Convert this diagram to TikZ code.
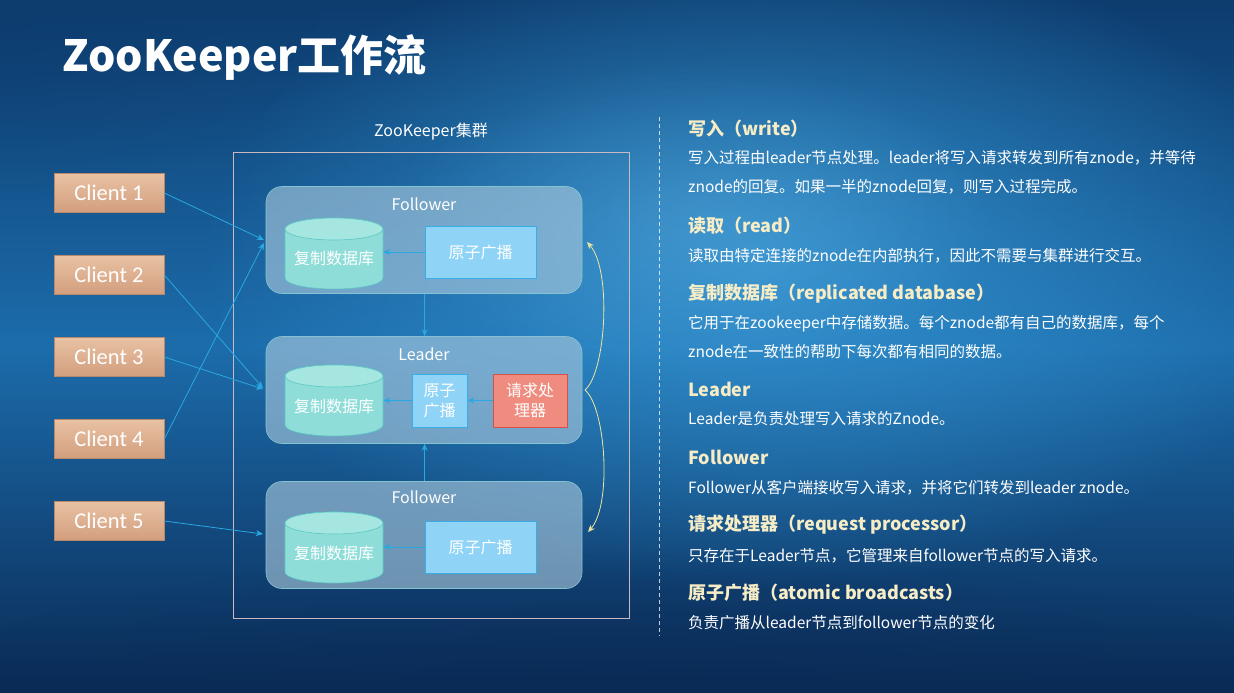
\documentclass[tikz,border=0pt]{standalone}
\usepackage{fontspec}
\setmainfont{Noto Sans CJK SC}
\newfontfamily\clientfont{Carlito}
\usetikzlibrary{arrows.meta,fadings}
\tikzfading[name=myfade, inner color=transparent!0, outer color=transparent!100]
\definecolor{bgA}{HTML}{0D3C6E}
\definecolor{bgB}{HTML}{1C6CAB}
\definecolor{bgC}{HTML}{0A2A55}
\definecolor{glow}{HTML}{3A9FDC}
\definecolor{clientT}{HTML}{E8C2A3}
\definecolor{clientB}{HTML}{D29E7E}
\definecolor{clientE}{HTML}{B88868}
\definecolor{panelF}{HTML}{A9C9DD}
\definecolor{panelE}{HTML}{86C3D2}
\definecolor{dbF}{HTML}{8EDDD8}
\definecolor{dbTop}{HTML}{A6E6E1}
\definecolor{dbE}{HTML}{5CC7C4}
\definecolor{abF}{HTML}{8FD4F6}
\definecolor{abE}{HTML}{39ADE6}
\definecolor{rpF}{HTML}{EF8C7F}
\definecolor{rpE}{HTML}{D5524A}
\definecolor{arr}{HTML}{2AA8E0}
\definecolor{yel}{HTML}{EEE4A2}
\definecolor{head}{HTML}{F6EDC6}
\definecolor{frameC}{HTML}{C9B9C3}
\tikzset{
  client/.style={draw=clientE, line width=0.6pt, top color=clientT, bottom color=clientB,
    minimum width=110pt, minimum height=39pt, inner sep=0pt,
    font=\clientfont\fontsize{22.5}{24}\selectfont, text=white},
  panel/.style={draw=panelE, line width=0.6pt, fill=panelF, fill opacity=0.62, text opacity=1,
    rounded corners=16pt, minimum width=316pt, minimum height=107pt, inner sep=0pt},
  plabel/.style={font=\fontsize{16}{18}\selectfont, text=white},
  dbtxt/.style={font=\fontsize{16}{18}\selectfont, text=white},
  dbbody/.style={draw=dbE, fill=dbF, line width=0.6pt},
  dbend/.style={draw=dbE, fill=dbTop, line width=0.6pt},
  ab/.style={draw=abE, line width=0.7pt, fill=abF, inner sep=0pt,
    font=\fontsize{16}{20}\selectfont, text=white, align=center},
  rp/.style={draw=rpE, line width=0.7pt, fill=rpF, inner sep=0pt,
    font=\fontsize{16}{20}\selectfont, text=white, align=center},
  flow/.style={draw=arr, line width=0.8pt, -{Stealth[length=7pt,width=6pt]}},
  yflow/.style={draw=yel, line width=0.8pt, -{Stealth[length=7pt,width=6pt,fill=yel]}},
  headtxt/.style={anchor=west, inner sep=0pt, font=\bfseries\fontsize{18}{20}\selectfont, text=head},
  bodytxt/.style={anchor=west, inner sep=0pt, font=\fontsize{15.5}{18}\selectfont, text=white},
}
% cylinder: name, x centre, y top
\newcommand\mycyl[3]{%
  \node[minimum width=98pt, minimum height=71pt, inner sep=0pt] (#1) at (#2,#3+35.5) {};
  \path[dbbody] (#2-49,#3+11) -- (#2-49,#3+60)
     arc[start angle=180, end angle=0, x radius=49, y radius=11]
     -- (#2+49,#3+11) arc[start angle=0, end angle=-180, x radius=49, y radius=11] -- cycle;
  \path[dbend] (#2,#3+11) ellipse[x radius=49, y radius=11];
}
\begin{document}
\begin{tikzpicture}[x=1pt,y=-1pt]
\useasboundingbox (0,0) rectangle (1234,693);
% background
\shade[top color=bgA, bottom color=bgC, middle color=bgB] (0,0) rectangle (1234,693);
\fill[glow, path fading=myfade, opacity=0.75] (760,260) ellipse (560 and 330);
\fill[glow!70!white, path fading=myfade, opacity=0.25] (700,220) ellipse (300 and 160);
\fill[bgA, path fading=myfade, opacity=0.6] (0,0) ellipse (320 and 200);
\fill[bgC, path fading=myfade, opacity=0.5] (617,693) ellipse (700 and 140);
% title
\node[anchor=west, inner sep=0pt, text=white, font=\bfseries\fontsize{43}{45}\selectfont] (title) at (62,58) {ZooKeeper工作流};
% cluster
\node[font=\fontsize{16}{18}\selectfont, text=white] (clabel) at (431,132) {ZooKeeper集群};
\node[draw=frameC, line width=0.7pt, minimum width=396pt, minimum height=466pt, inner sep=0pt] (cluster) at (431,385) {};
% clients
\node[client] (c1) at (109,193) {Client 1};
\node[client] (c2) at (109,275) {Client 2};
\node[client] (c3) at (109,357) {Client 3};
\node[client] (c4) at (109,439) {Client 4};
\node[client] (c5) at (109,521) {Client 5};
% panels
\node[panel] (f1) at (424,240) {};
\node[panel] (ld) at (424,390) {};
\node[panel] (f2) at (424,535) {};
\node[plabel] (f1l) at (424,204) {Follower};
\node[plabel] (ldl) at (424,354) {Leader};
\node[plabel] (f2l) at (424,497) {Follower};
% databases
\mycyl{db1}{334}{218}
\mycyl{db2}{334}{365}
\mycyl{db3}{334}{512}
\node[dbtxt] (db1t) at (334,258) {复制数据库};
\node[dbtxt] (db2t) at (334,406) {复制数据库};
\node[dbtxt] (db3t) at (334,553) {复制数据库};
% atomic broadcast
\node[ab, minimum width=111pt, minimum height=52pt] (ab1) at (480.5,252) {原子广播};
\node[ab, minimum width=55pt, minimum height=53pt] (ab2) at (439.5,400.5) {原子\\广播};
\node[ab, minimum width=111pt, minimum height=52pt] (ab3) at (480.5,547) {原子广播};
\node[rp, minimum width=74pt, minimum height=53pt] (rp) at (530,400.5) {请求处\\理器};
% internal arrows
\draw[flow] (ab1.west) -- (db1.east |- ab1.west);
\draw[flow] (ab3.west) -- (db3.east |- ab3.west);
\draw[flow] (rp.west) -- (ab2.east);
\draw[flow] (ab2.west) -- (db2.east |- ab2.west);
\draw[flow] (f1.south -| ab1.west) -- (ld.north -| ab1.west);
\draw[flow] (f2.north -| ab1.west) -- (ld.south -| ab1.west);
% client arrows
\draw[flow] (c1.east) -- (264,240);
\draw[flow] (c4.east) -- (264,243);
\draw[flow] (c2.east) -- (263,388);
\draw[flow] (c3.east) -- (263,389);
\draw[flow] (c5.east) -- (263,534);
% yellow curves
\coordinate (yo) at (585,390);
\coordinate (yt) at (587,242);
\coordinate (yb) at (588,532);
\draw[yflow] (yo) .. controls (606,372) and (612,270) .. (yt);
\draw[yflow] (yo) .. controls (606,408) and (612,505) .. (yb);
% divider
\draw[white, opacity=0.75, line width=0.8pt, dash pattern=on 4pt off 3pt] (659,117) -- (659,636);
% right text
\node[headtxt] (h1) at (688,129) {写入（write）};
\node[bodytxt] (b1a) at (688,158) {写入过程由leader节点处理。leader将写入请求转发到所有znode，并等待};
\node[bodytxt] (b1b) at (688,187) {znode的回复。如果一半的znode回复，则写入过程完成。};
\node[headtxt] (h2) at (688,226) {读取（read）};
\node[bodytxt] (b2) at (688,256) {读取由特定连接的znode在内部执行，因此不需要与集群进行交互。};
\node[headtxt] (h3) at (688,294) {复制数据库（replicated database）};
\node[bodytxt] (b3a) at (688,324) {它用于在zookeeper中存储数据。每个znode都有自己的数据库，每个};
\node[bodytxt] (b3b) at (688,352) {znode在一致性的帮助下每次都有相同的数据。};
\node[headtxt] (h4) at (688,389) {Leader};
\node[bodytxt] (b4) at (688,419) {Leader是负责处理写入请求的Znode。};
\node[headtxt] (h5) at (688,457) {Follower};
\node[bodytxt] (b5) at (688,488) {Follower从客户端接收写入请求，并将它们转发到leader znode。};
\node[headtxt] (h6) at (688,525) {请求处理器（request processor）};
\node[bodytxt] (b6) at (688,556) {只存在于Leader节点，它管理来自follower节点的写入请求。};
\node[headtxt] (h7) at (688,593) {原子广播（atomic broadcasts）};
\node[bodytxt] (b7) at (688,623) {负责广播从leader节点到follower节点的变化};
\end{tikzpicture}
\end{document}
